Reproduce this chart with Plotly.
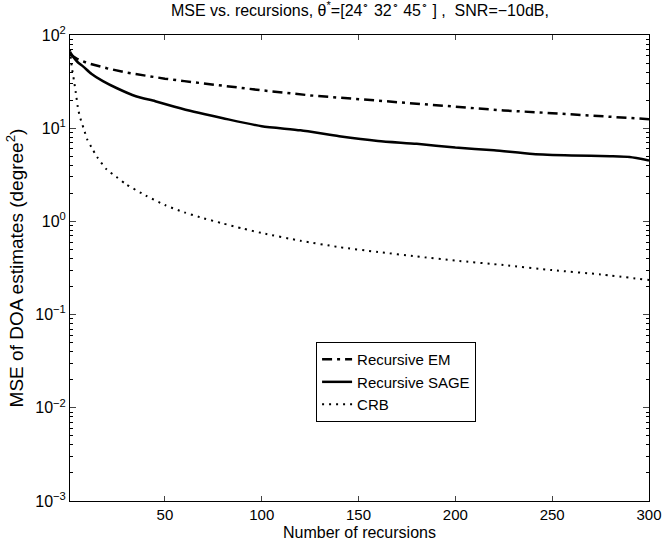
import plotly.graph_objects as go

# Data
em_x = [1, 5, 10, 20, 30, 40, 50, 60, 80, 100, 125, 150, 175, 200, 225, 250, 275, 300]
em_y = [62, 55, 50, 44, 39.5, 36.5, 34, 32, 28.5, 25.5, 22.5, 20.5, 18.5, 17, 15.5, 14.5, 13.5, 12.5]

sage_x = [1, 3, 5, 8, 12, 18, 25, 35, 45, 55, 65, 80, 100, 120, 140, 160, 180, 200, 220, 240, 260, 280, 290, 300]
sage_y = [66, 57, 51, 45.5, 38.5, 32, 27, 22, 19.5, 17, 15, 12.8, 10.5, 9.5, 8.2, 7.3, 6.8, 6.2, 5.8, 5.3, 5.1, 5.0, 4.9, 4.5]

crb_x = [1, 2, 3, 4, 5, 6, 8, 10, 12, 15, 20, 25, 30, 40, 50, 60, 70, 80, 90, 100, 120, 140, 160, 180, 200, 225, 250, 275, 300]
crb_y = [70, 44, 33, 24, 17, 13.5, 10, 7.5, 6.3, 4.9, 3.6, 3.0, 2.5, 1.9, 1.5, 1.25, 1.08, 0.95, 0.84, 0.75, 0.62, 0.53, 0.47, 0.42, 0.38, 0.34, 0.3, 0.27, 0.235]

x_ticks = [50, 100, 150, 200, 250, 300]
y_ticks = [1e-3, 1e-2, 1e-1, 1e0, 1e1, 1e2]
y_ticktext = ["10<sup>\u22123</sup>", "10<sup>\u22122</sup>", "10<sup>\u22121</sup>",
              "10<sup>0</sup>", "10<sup>1</sup>", "10<sup>2</sup>"]
y_minor = [m * 10.0 ** e for e in range(-3, 2) for m in range(2, 10)]

FONT = "Liberation Sans, Arial, Helvetica, sans-serif"

fig = go.Figure()
fig.add_trace(go.Scatter(x=em_x, y=em_y, mode="lines", name="Recursive EM",
                         line=dict(color="black", width=2.5, dash="10px,5px,3px,5px")))
fig.add_trace(go.Scatter(x=sage_x, y=sage_y, mode="lines", name="Recursive SAGE",
                         line=dict(color="black", width=2.5, shape="spline", smoothing=0.6)))
fig.add_trace(go.Scatter(x=crb_x, y=crb_y, mode="lines", name="CRB",
                         line=dict(color="black", width=2, dash="2px,5px", shape="spline", smoothing=0.6)))

fig.update_layout(
    width=664, height=540,
    margin=dict(l=70, r=15, t=35, b=39),
    paper_bgcolor="white", plot_bgcolor="white",
    font=dict(family=FONT, size=16, color="black"),
    title=dict(text="MSE vs. recursions, \u03b8<sup>*</sup>=[24<sup>\u2218</sup> 32<sup>\u2218</sup> 45<sup>\u2218</sup> ] ,  SNR=\u221210dB,",
               x=0.542, xanchor="center", y=0.992, yanchor="top", font=dict(size=16)),
    showlegend=True,
    legend=dict(x=0.425, y=0.341, xanchor="left", yanchor="top",
                bordercolor="black", borderwidth=1, bgcolor="white",
                font=dict(size=15), tracegroupgap=0, itemwidth=30),
    annotations=[dict(text="Number of recursions", xref="paper", yref="paper",
                      x=0.5, y=-39 / 466, xanchor="center", yanchor="bottom", yshift=-2,
                      borderpad=0, showarrow=False, font=dict(size=16))],
)
fig.update_xaxes(range=[1, 300], tickvals=x_ticks, ticks="inside", ticklen=5,
                 showline=True, linecolor="black", linewidth=1, mirror="ticks",
                 showgrid=False, zeroline=False, automargin=False,
                 tickfont=dict(size=15))
fig.update_yaxes(type="log", range=[-3, 2], tickvals=y_ticks, ticktext=y_ticktext,
                 ticks="inside", ticklen=6, showline=True, linecolor="black", linewidth=1,
                 mirror="ticks", showgrid=False, zeroline=False, automargin=False,
                 minor=dict(ticks="inside", ticklen=3, tickcolor="black", showgrid=False,
                            tickvals=y_minor),
                 title=dict(text="MSE of DOA estimates (degree<sup>2</sup>)", standoff=6),
                 tickfont=dict(size=16))

fig.write_html("out.html")
